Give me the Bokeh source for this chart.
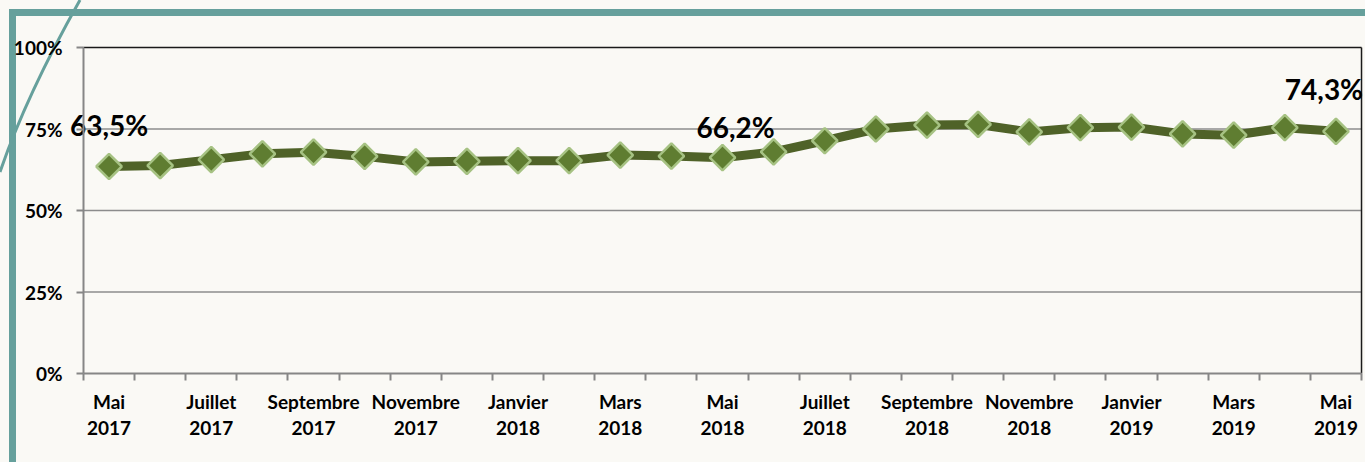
import math
from urllib.parse import quote
from bokeh.plotting import figure
from bokeh.models import ColumnDataSource, Range1d, FixedTicker, PrintfTickFormatter
from bokeh.core.properties import value
from bokeh.embed import file_html
from bokeh.resources import INLINE

months = ["Mai 2017", "Juin 2017", "Juillet 2017", "Août 2017", "Septembre 2017",
          "Octobre 2017", "Novembre 2017", "Décembre 2017", "Janvier 2018",
          "Février 2018", "Mars 2018", "Avril 2018", "Mai 2018", "Juin 2018",
          "Juillet 2018", "Août 2018", "Septembre 2018", "Octobre 2018",
          "Novembre 2018", "Décembre 2018", "Janvier 2019", "Février 2019",
          "Mars 2019", "Avril 2019", "Mai 2019"]
rates = [63.5, 63.8, 65.6, 67.4, 67.9, 66.6, 64.9, 65.1, 65.3, 65.3, 67.0, 66.7,
         66.2, 68.0, 71.4, 75.0, 76.2, 76.4, 74.1, 75.4, 75.6, 73.5, 73.1, 75.4, 74.3]
y_ticks = [0, 25, 50, 75, 100]
label_index = [0, 12, 24]
label_text = ["63,5%", "66,2%", "74,3%"]

FONT = "Lato"
BG = "#faf9f5"
TEAL = "#66a09c"
GRAY = "#868686"

n = len(months)
x = list(range(n))
x_lo, x_hi = -0.5, n - 0.5
src = ColumnDataSource(dict(x=x, y=rates))
lab = ColumnDataSource(dict(x=label_index, y=[rates[i] for i in label_index],
                            t=label_text, dx=[0, 13, -12], dy=[-41, -31, -42]))
grid_vals = [v for v in y_ticks if 0 < v < max(y_ticks)]

# frame spans the whole canvas; axes are placed inside it
p = figure(width=1365, height=462, output_backend="svg", toolbar_location=None,
           x_range=Range1d(-2.1236, 24.578), y_range=Range1d(-27.30, 114.42),
           min_border=0)
p.background_fill_color = None
p.border_fill_color = None
p.outline_line_color = None
p.xgrid.grid_line_color = None
p.ygrid.grid_line_color = None

svg = ('<svg xmlns="http://www.w3.org/2000/svg" width="1365" height="462">'
       f'<rect x="9" y="9" width="1356" height="7" fill="{TEAL}"/>'
       f'<rect x="9" y="9" width="7" height="453" fill="{TEAL}"/>'
       f'<path d="M80,0 Q26,96 0,172" fill="none" stroke="{TEAL}" stroke-width="3"/>'
       '</svg>')
p.styles = {"background-color": BG,
            "background-image": f'url("data:image/svg+xml;utf8,{quote(svg)}")',
            "background-repeat": "no-repeat"}

# gridlines and plot-area border
p.segment(x0=[x_lo] * len(grid_vals), x1=[x_hi] * len(grid_vals),
          y0=grid_vals, y1=grid_vals, line_color="#8c8c8c", line_width=1.5)
p.segment(x0=[x_lo, x_hi], x1=[x_hi, x_hi], y0=[max(y_ticks), 0],
          y1=[max(y_ticks), max(y_ticks)], line_color="#1a1a1a", line_width=1.5)

p.line("x", "y", source=src, line_color="#4f6228", line_width=9, line_join="round")
p.scatter("x", "y", source=src, marker="square", size=18, angle=math.pi / 4,
          fill_color="#5f7d31", line_color="#a6c283", line_width=2.5)
p.text("x", "y", text="t", source=lab, x_offset="dx", y_offset="dy",
       text_font=value(FONT), text_font_style="bold", text_font_size="28px",
       text_align="center", text_baseline="alphabetic", text_color="#000000")

# x axis
p.xaxis.fixed_location = 0
p.xaxis.bounds = (x_lo, x_hi)
p.xaxis.ticker = FixedTicker(ticks=x[::2], minor_ticks=[i - 0.5 for i in range(n + 1)])
p.xaxis.major_label_overrides = {i: months[i].replace(" ", "\n") for i in x[::2]}
p.xaxis.major_tick_out = 0
p.xaxis.major_tick_in = 0
p.xaxis.minor_tick_out = 7
p.xaxis.minor_tick_in = 0
p.xaxis.minor_tick_line_color = GRAY
p.xaxis.minor_tick_line_width = 2
p.xaxis.major_label_standoff = 9
p.xaxis.major_label_text_line_height = 1.16

# y axis
p.yaxis.fixed_location = x_lo
p.yaxis.bounds = (0, max(y_ticks))
p.yaxis.ticker = FixedTicker(ticks=y_ticks, minor_ticks=[])
p.yaxis.formatter = PrintfTickFormatter(format="%d%%")
p.yaxis.major_tick_out = 7
p.yaxis.major_tick_in = 0
p.yaxis.major_tick_line_color = GRAY
p.yaxis.major_tick_line_width = 2
p.yaxis.major_label_standoff = 14

for ax in (p.xaxis, p.yaxis):
    ax.axis_line_color = GRAY
    ax.axis_line_width = 2
    ax.major_label_text_font = FONT
    ax.major_label_text_font_style = "bold"
    ax.major_label_text_font_size = "19px"
    ax.major_label_text_color = "#000000"

open("out.html", "w").write(file_html(p, INLINE))
